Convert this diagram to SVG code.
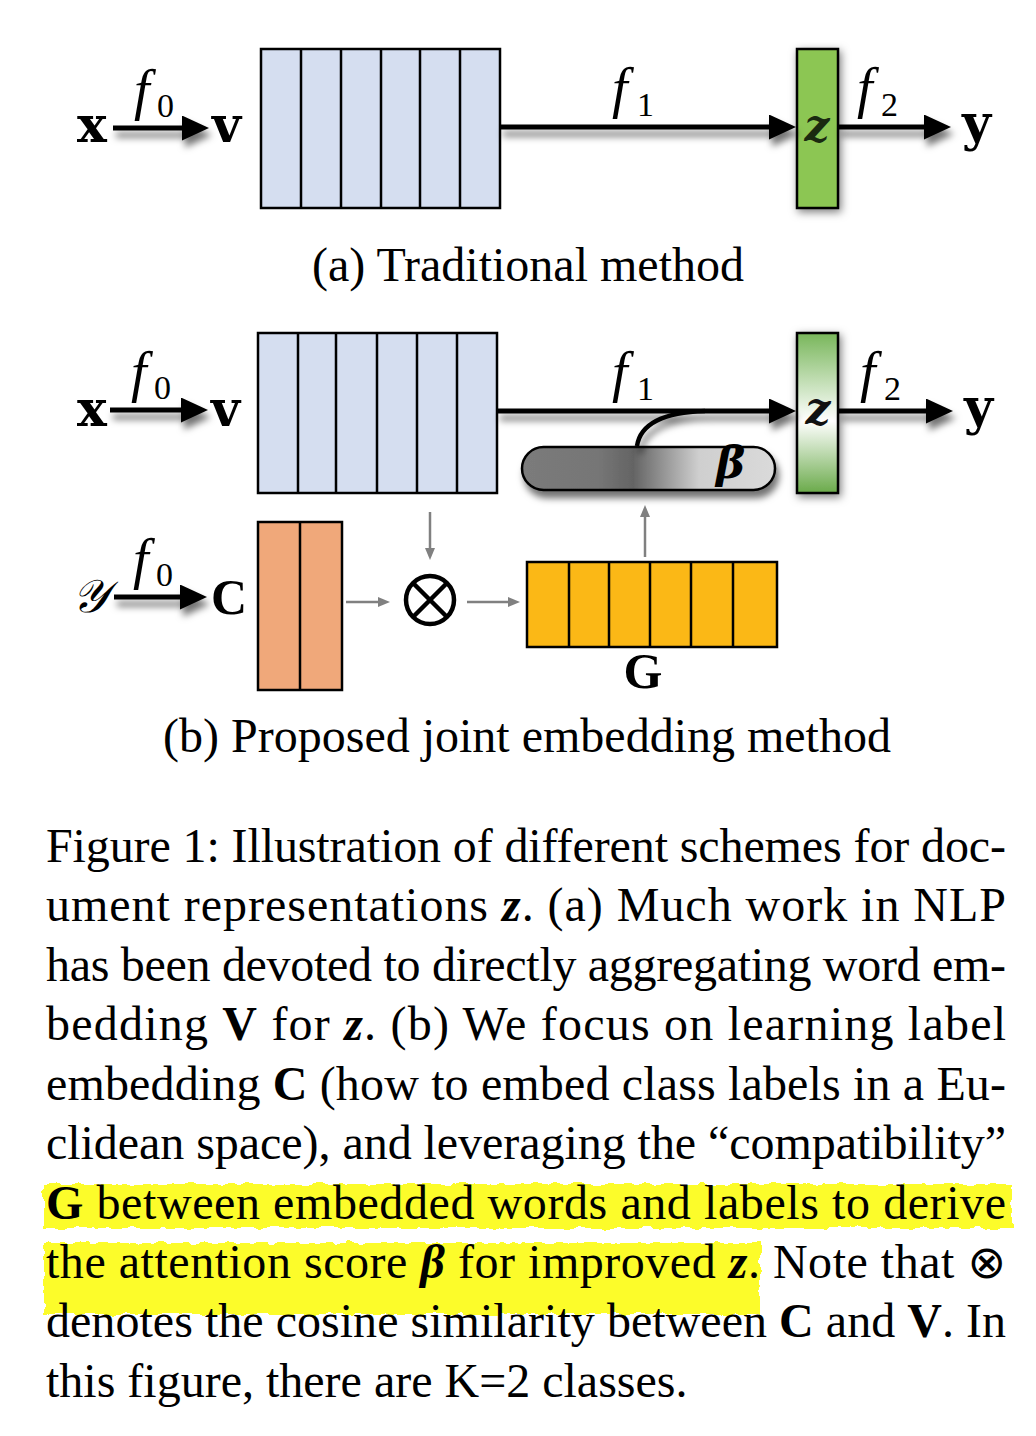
<svg xmlns="http://www.w3.org/2000/svg" width="1036" height="1436" viewBox="0 0 1036 1436">
<defs>
<style>
.blk{stroke:#000;stroke-width:2.5;}
.v{fill:#d5def0;}
.c{fill:#f0a87a;}
.g{fill:#fbb816;}
.div{stroke:#000;stroke-width:2.5;}
.arr{stroke:#000;stroke-width:5;fill:none;marker-end:url(#ah);}
.garr{stroke:#808080;stroke-width:2.5;fill:none;marker-end:url(#gh);}
.lbl{font-family:'DejaVu Serif','Liberation Serif',serif;font-weight:bold;font-size:50px;fill:#000;}
.cap{font-family:'Liberation Serif','DejaVu Serif',serif;font-weight:bold;font-size:50px;fill:#000;}
.fn{font-family:'Liberation Serif','DejaVu Serif',serif;font-style:italic;font-size:56px;fill:#000;}
.sub{font-family:'Liberation Serif','DejaVu Serif',serif;font-size:34px;fill:#000;}
.zt{font-family:'DejaVu Serif','Liberation Serif',serif;font-weight:bold;font-style:italic;font-size:44px;}
.tt{font-family:'Liberation Serif','DejaVu Serif',serif;font-size:48px;fill:#000;}
.b{font-weight:bold;}
.bi{font-weight:bold;font-style:italic;}
.hl{fill:#fcfc2a;filter:url(#rough);}
</style>
<marker id="ah" markerUnits="userSpaceOnUse" markerWidth="27" markerHeight="25" refX="6" refY="12.5" orient="auto">
<path d="M0,0 L27,12.5 L0,25 Z" fill="#000"/>
</marker>
<marker id="gh" markerUnits="userSpaceOnUse" markerWidth="12" markerHeight="10" refX="2" refY="5" orient="auto">
<path d="M0,0 L12,5 L0,10 Z" fill="#808080"/>
</marker>
<filter id="sh" filterUnits="userSpaceOnUse" x="0" y="0" width="1036" height="800">
<feDropShadow dx="3" dy="7" stdDeviation="3.5" flood-color="#000" flood-opacity="0.55"/>
</filter>
<filter id="glow" x="-60%" y="-20%" width="220%" height="140%">
<feDropShadow dx="2" dy="3" stdDeviation="4" flood-color="#000" flood-opacity="0.5"/>
</filter>
<filter id="rough" x="-3%" y="-30%" width="106%" height="160%">
<feTurbulence type="fractalNoise" baseFrequency="0.09" numOctaves="2" seed="4"/>
<feDisplacementMap in="SourceGraphic" scale="8" xChannelSelector="R" yChannelSelector="G"/>
</filter>
<linearGradient id="zg" x1="0" y1="0" x2="0" y2="1">
<stop offset="0" stop-color="#78b65a"/>
<stop offset="0.55" stop-color="#ffffff"/>
<stop offset="1" stop-color="#6aaa4a"/>
</linearGradient>
<linearGradient id="bg" x1="0" y1="0" x2="1" y2="0">
<stop offset="0" stop-color="#7b7b7b"/>
<stop offset="0.3" stop-color="#767676"/>
<stop offset="0.44" stop-color="#646464"/>
<stop offset="0.7" stop-color="#cfcfcf"/>
<stop offset="1" stop-color="#dadada"/>
</linearGradient>
</defs>
<rect width="1036" height="1436" fill="#fff"/>

<!-- (a) -->
<g id="a-x"><text class="lbl" x="77" y="142">x</text></g>
<g id="a-v"><text class="lbl" x="212" y="142">v</text></g>
<g id="a-V">
<rect class="blk v" x="261" y="49" width="239" height="159"/>
<path class="div" d="M301,49V208 M341,49V208 M381,49V208 M420,49V208 M460,49V208"/>
</g>
<g id="a-z" >
<rect x="797" y="49" width="41" height="159" fill="#8cc653" stroke="#000" stroke-width="2.5" filter="url(#glow)"/>
</g>
<g id="a-y"><text class="lbl" x="962" y="140">y</text></g>

<g id="connectors-a" filter="url(#sh)">
<line class="arr" x1="113" y1="128" x2="188" y2="128"/>
<line class="arr" x1="500" y1="127" x2="775" y2="127"/>
<line class="arr" x1="838" y1="127" x2="930" y2="127"/>
</g>
<g id="a-labels">
<text class="zt" x="817" y="141" text-anchor="middle" fill="#1a2a10">z</text>
<text class="fn" x="134" y="109">f</text><text class="sub" x="157" y="117">0</text>
<text class="fn" x="612" y="107">f</text><text class="sub" x="637" y="116">1</text>
<text class="fn" x="857" y="107">f</text><text class="sub" x="881" y="116">2</text>
</g>
<g id="cap-a"><text class="tt" x="528" y="281" text-anchor="middle">(a) Traditional method</text></g>

<!-- (b) -->
<g id="b-x"><text class="lbl" x="77" y="426">x</text></g>
<g id="b-v"><text class="lbl" x="211" y="426">v</text></g>
<g id="b-V">
<rect class="blk v" x="258" y="333" width="239" height="160"/>
<path class="div" d="M298,333V493 M336,333V493 M377,333V493 M417,333V493 M457,333V493"/>
</g>
<g id="b-z">
<rect x="797" y="333" width="41" height="160" fill="url(#zg)" stroke="#000" stroke-width="2.5" filter="url(#glow)"/>
</g>
<g id="b-y"><text class="lbl" x="964" y="424">y</text></g>
<g id="beta">
<rect x="522" y="447" width="253" height="43" rx="21.5" fill="url(#bg)" stroke="#000" stroke-width="2.5" filter="url(#sh)"/>
<text class="zt" x="716" y="478" fill="#000">β</text>
</g>
<g id="b-Y"><text x="72" y="612" font-family="'DejaVu Serif','Liberation Serif',serif" font-style="italic" font-size="46">𝒴</text></g>
<g id="b-C"><text class="cap" x="211" y="614">C</text></g>
<g id="b-Cblock">
<rect class="blk c" x="258" y="522" width="84" height="168"/>
<path class="div" d="M300,522V690"/>
</g>
<g id="otimes">
<circle cx="430" cy="600" r="24" fill="#fff" stroke="#000" stroke-width="4.5"/>
<path d="M413,583L447,617M447,583L413,617" stroke="#000" stroke-width="4.5"/>
</g>
<g id="b-G">
<rect class="blk g" x="527" y="562" width="250" height="85"/>
<path class="div" d="M569,562V647 M609,562V647 M650,562V647 M691,562V647 M733,562V647"/>
<text class="cap" x="643" y="688" text-anchor="middle">G</text>
</g>

<g id="connectors-b">
<g filter="url(#sh)">
<line class="arr" x1="110" y1="410" x2="187" y2="410"/>
<line class="arr" x1="497" y1="411" x2="775" y2="411"/>
<line class="arr" x1="838" y1="411" x2="932" y2="411"/>
<path d="M637,446 Q642,413 705,411" stroke="#000" stroke-width="4.5" fill="none"/>
<line class="arr" x1="114" y1="597" x2="186" y2="597"/>
</g>
<line class="garr" x1="346" y1="602" x2="380" y2="602"/>
<line class="garr" x1="467" y1="602" x2="510" y2="602"/>
<line class="garr" x1="430" y1="512" x2="430" y2="550"/>
<line class="garr" x1="645" y1="557" x2="645" y2="515"/>
</g>
<g id="b-labels">
<text class="zt" x="818" y="424" text-anchor="middle" fill="#111">z</text>
<text class="fn" x="131" y="391">f</text><text class="sub" x="154" y="399">0</text>
<text class="fn" x="612" y="391">f</text><text class="sub" x="637" y="400">1</text>
<text class="fn" x="860" y="391">f</text><text class="sub" x="884" y="400">2</text>
<text class="fn" x="133" y="578">f</text><text class="sub" x="156" y="586">0</text>
</g>
<g id="cap-b"><text class="tt" x="527" y="752" text-anchor="middle">(b) Proposed joint embedding method</text></g>

<!-- caption -->
<g id="highlight">
<rect class="hl" x="44" y="1184" width="968" height="44"/>
<rect class="hl" x="44" y="1243" width="716" height="71"/>
</g>
<g id="caption" class="tt">
<text x="46" y="862" textLength="960" lengthAdjust="spacing">Figure 1: Illustration of different schemes for doc-</text>
<text x="46" y="921" textLength="960" lengthAdjust="spacing">ument representations <tspan class="bi">z</tspan>.  (a) Much work in NLP</text>
<text x="46" y="981" textLength="960" lengthAdjust="spacing">has been devoted to directly aggregating word em-</text>
<text x="46" y="1040" textLength="960" lengthAdjust="spacing">bedding <tspan class="b">V</tspan> for <tspan class="bi">z</tspan>.  (b) We focus on learning label</text>
<text x="46" y="1100" textLength="960" lengthAdjust="spacing">embedding <tspan class="b">C</tspan> (how to embed class labels in a Eu-</text>
<text x="46" y="1159" textLength="960" lengthAdjust="spacing">clidean space), and leveraging the “compatibility”</text>
<text x="46" y="1219" textLength="960" lengthAdjust="spacing"><tspan class="b">G</tspan> between embedded words and labels to derive</text>
<text x="46" y="1278" textLength="960" lengthAdjust="spacing">the attention score <tspan class="bi">β</tspan> for improved <tspan class="bi">z</tspan>. Note that <tspan font-family="'DejaVu Sans',sans-serif" font-size="46">⊗</tspan></text>
<text x="46" y="1337" textLength="960" lengthAdjust="spacing">denotes the cosine similarity between <tspan class="b">C</tspan> and <tspan class="b">V</tspan>. In</text>
<text x="46" y="1397">this figure, there are K=2 classes.</text>
</g>
</svg>
